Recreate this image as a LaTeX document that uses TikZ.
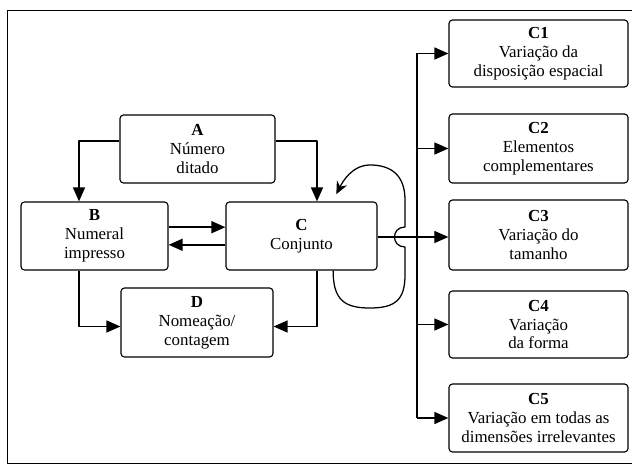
\documentclass[tikz,border=0pt]{standalone}
\usepackage{fontspec}
\setmainfont{Liberation Serif}
\usetikzlibrary{arrows.meta}
\tikzset{
  every picture/.style={line join=round, >={Triangle[length=10pt,width=8.5pt]}},
  box/.style={draw, rounded corners=2.5pt, line width=0.8pt, align=center, inner sep=0pt,
    minimum height=1.7cm, font=\fontsize{12}{13.5}\selectfont},
  conn/.style={line width=1.3pt},
  loopline/.style={line width=0.9pt},
}

\begin{document}
\begin{tikzpicture}[x=0.025cm,y=-0.025cm]
\useasboundingbox (0,0) rectangle (632,465);
\draw[line width=0.7pt] (632,10) -| (7,463) -- (632,463);
\node[box,minimum width=3.875cm] (A) at (197.5,149) {\textbf{A}\\Número\\ditado};
\node[box,minimum width=3.675cm] (B) at (94.5,236) {\textbf{B}\\Numeral\\impresso};
\node[box,minimum width=3.775cm] (C) at (301.5,236) {\textbf{C}\\Conjunto};
\node[box,minimum width=3.8cm,minimum height=1.725cm] (D) at (197,322.5) {\textbf{D}\\Nomeação/\\contagem};
\node[box,minimum width=4.475cm,minimum height=1.675cm] (C1) at (538.5,53.5) {\textbf{C1}\\Variação da\\disposição espacial};
\node[box,minimum width=4.475cm,minimum height=1.725cm] (C2) at (538.5,148.5) {\textbf{C2}\\Elementos\\complementares};
\node[box,minimum width=4.475cm,minimum height=1.75cm] (C3) at (538.5,235) {\textbf{C3}\\Variação do\\tamanho};
\node[box,minimum width=4.475cm,minimum height=1.675cm] (C4) at (538.5,324.5) {\textbf{C4}\\Variação\\da forma};
\node[box,minimum width=4.475cm] (C5) at (538.5,418) {\textbf{C5}\\Variação em todas as\\dimensões irrelevantes};
\coordinate (lx) at (79,0);
\coordinate (rx) at (317,0);
\coordinate (trunk) at (417,237);
\draw[conn,->] ([yshift=0.2cm]A.west) -| (B.north -| lx);
\draw[conn,->] ([yshift=0.2cm]A.east) -| (C.north -| rx);
\draw[conn,->] ([yshift=0.22cm]B.east) -- ([yshift=0.22cm]C.west);
\draw[conn,->] ([yshift=-0.22cm]C.west) -- ([yshift=-0.22cm]B.east);
\draw[conn,->] (B.south -| lx) |- ([yshift=-0.1cm]D.west);
\draw[conn,->] (C.south -| rx) |- ([yshift=-0.1cm]D.east);
\draw[loopline,-{Stealth[length=9pt,width=8pt]}] ([xshift=0.79cm]C.south)
  .. controls +(0,30) and +(-25,0) .. (370,308)
  .. controls +(25,0) and +(0,25) .. (405,275) -- (405,247)
  .. controls +(-14,0) and +(-14,0) .. (405,227) -- (405,200)
  .. controls +(0,-24) and +(22,0) .. (370,165)
  .. controls +(-18,0) and +(6,-12) .. ([xshift=0.87cm,yshift=0.18cm]C.north);
\draw[loopline,->] (C.east |- trunk) -- (C3.west |- trunk);
\draw[conn] (trunk |- C1.west) -- (trunk |- C5.west);
\foreach \n in {C1,C2,C4,C5}{\draw[conn,->] (trunk |- \n.west) -- (\n.west);}
\end{tikzpicture}
\end{document}
